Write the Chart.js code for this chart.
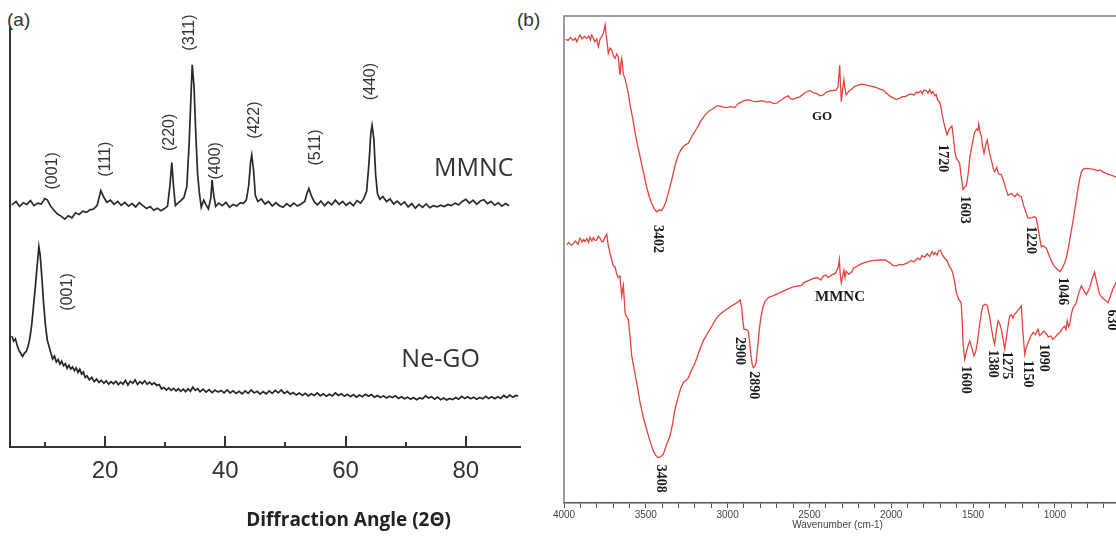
<!DOCTYPE html>
<html>
<head>
<meta charset="utf-8">
<script src="https://cdn.jsdelivr.net/npm/chart.js@4.4.1/dist/chart.umd.min.js"></script>
<style>
  html, body { margin:0; padding:0; background:#fff; }
  body { width:1116px; height:536px; position:relative; overflow:hidden; }
  canvas { position:absolute; top:0; }
  #ca { left:0; }
  #cb { left:540px; }
  .plab { position:absolute; font-family:"Liberation Sans", Arial, sans-serif; font-size:19px; line-height:19px; color:#333; }
</style>
</head>
<body>
<div class="plab" style="left:7px; top:10px;">(a)</div>
<div class="plab" style="left:517px; top:10px;">(b)</div>
<canvas id="ca" width="540" height="536"></canvas>
<canvas id="cb" width="640" height="536"></canvas>
<script>
// ---------------- Panel (a): XRD ----------------
const xrdTickLabels = [20, 40, 60, 80];
const xrdMinorTicks = [10, 30, 50, 70];

// MMNC XRD pattern [2theta, intensity (a.u.)]
const mmncXrd = [
[4.5,57.8],[5.2,58.6],[5.8,57.4],[6.4,58.3],[7.0,57.9],[7.6,58.8],[8.2,57.6],[8.8,58.2],[9.4,58.0],[10.0,59.3],
[10.4,59.0],[10.9,57.6],[11.5,56.5],[12.1,55.6],[12.7,55.1],[13.3,54.4],[13.9,55.2],[14.5,54.7],[15.1,55.9],[15.7,55.5],
[16.3,56.3],[16.9,56.0],[17.5,56.6],[18.1,56.8],[18.7,57.7],[19.3,61.2],[19.8,59.6],[20.3,58.4],[20.9,58.9],[21.5,57.9],
[22.1,58.6],[22.7,57.7],[23.3,58.4],[23.9,57.5],[24.5,58.1],[25.1,57.3],[25.7,58.3],[26.3,57.6],[26.9,56.9],[27.5,57.4],
[28.1,56.5],[28.7,57.0],[29.3,56.4],[29.9,56.9],[30.4,57.5],[30.8,62.5],[31.1,67.9],[31.4,62.0],[31.7,57.6],[32.1,58.2],
[32.6,58.8],[33.1,59.5],[33.6,62.1],[34.0,73.0],[34.3,84.0],[34.5,91.2],[34.8,86.0],[35.1,74.5],[35.4,65.0],[35.7,60.5],
[36.0,57.2],[36.4,58.9],[36.8,57.8],[37.2,56.8],[37.6,59.5],[37.8,63.7],[38.1,59.8],[38.4,57.4],[38.9,58.2],[39.5,57.6],
[40.1,58.4],[40.7,57.2],[41.3,57.9],[41.9,57.5],[42.5,58.3],[43.0,58.1],[43.5,59.0],[43.9,62.5],[44.2,68.0],[44.4,69.7],
[44.7,66.0],[45.0,60.0],[45.4,58.6],[46.0,59.2],[46.6,58.0],[47.2,58.6],[47.8,57.5],[48.4,58.3],[49.0,57.6],[49.6,57.2],
[50.2,58.1],[50.8,57.4],[51.4,58.2],[52.0,57.5],[52.6,58.0],[53.2,58.6],[53.6,60.6],[53.9,61.7],[54.3,60.0],[54.8,58.5],
[55.3,57.8],[55.9,58.7],[56.5,57.6],[57.1,58.5],[57.7,57.8],[58.3,58.9],[58.9,57.9],[59.5,58.6],[60.1,57.7],[60.7,58.4],
[61.3,57.6],[61.9,58.8],[62.5,58.2],[63.0,59.2],[63.5,61.0],[63.9,68.0],[64.2,75.0],[64.4,76.8],[64.7,73.5],[65.0,65.0],
[65.3,60.5],[65.7,59.1],[66.2,59.8],[66.8,58.6],[67.4,59.2],[68.0,58.0],[68.6,58.7],[69.2,57.8],[69.8,58.5],[70.4,57.3],
[71.0,58.1],[71.6,57.0],[72.2,57.9],[72.8,57.2],[73.4,58.0],[74.0,57.1],[74.6,57.6],[75.2,57.3],[75.8,57.7],[76.4,57.4],
[77.0,57.9],[77.6,57.6],[78.2,58.2],[78.8,57.8],[79.4,58.6],[80.0,59.1],[80.6,58.2],[81.2,58.9],[81.8,57.9],[82.4,58.7],
[83.0,59.0],[83.6,58.1],[84.2,58.6],[84.8,57.7],[85.4,58.3],[86.0,57.5],[86.6,58.1],[87.2,57.6]
];

// Ne-GO XRD pattern [2theta, intensity (a.u.)]
const negoXrd = [
[4.5,26.5],[4.8,25.3],[5.1,25.8],[5.4,24.2],[5.7,23.0],[6.0,22.3],[6.3,21.6],[6.6,22.4],[6.9,22.8],[7.2,24.0],
[7.5,26.0],[7.8,29.0],[8.1,33.5],[8.4,38.0],[8.7,43.0],[9.0,47.8],[9.2,46.0],[9.5,40.5],[9.8,34.0],[10.1,29.0],
[10.4,25.5],[10.7,24.0],[11.0,22.4],[11.3,21.0],[11.6,21.7],[11.9,20.3],[12.2,20.9],[12.5,19.8],[12.8,20.5],[13.1,19.4],
[13.4,19.9],[13.7,18.8],[14.0,19.5],[14.3,18.6],[14.6,19.1],[14.9,18.2],[15.2,18.9],[15.5,17.8],[15.8,18.6],[16.1,17.4],
[16.4,17.9],[16.7,16.6],[17.0,17.0],[17.4,16.0],[17.8,16.6],[18.2,15.6],[18.6,16.2],[19.0,15.4],[19.4,15.9],[19.8,15.2],
[20.2,15.8],[20.6,15.0],[21.0,15.6],[21.4,15.1],[21.8,15.7],[22.2,14.9],[22.6,15.5],[23.0,15.0],[23.4,15.9],[23.8,14.8],
[24.2,15.7],[24.6,15.2],[25.0,16.0],[25.4,14.9],[25.8,15.6],[26.2,15.1],[26.6,15.8],[27.0,15.0],[27.4,15.5],[27.8,14.9],
[28.2,15.3],[28.6,14.7],[29.0,14.9],[29.4,13.9],[29.8,14.2],[30.2,13.6],[30.6,14.1],[31.0,13.5],[31.4,14.0],[31.8,13.4],
[32.2,13.9],[32.6,13.3],[33.0,13.8],[33.4,13.2],[33.8,13.9],[34.2,13.3],[34.6,14.3],[35.0,13.5],[35.4,13.9],[35.8,13.2],
[36.3,13.8],[36.8,13.1],[37.3,13.7],[37.8,13.0],[38.3,13.6],[38.8,13.1],[39.3,13.5],[39.8,12.9],[40.3,13.6],[40.8,12.9],
[41.3,13.4],[41.8,12.8],[42.3,13.3],[42.8,12.7],[43.3,13.4],[43.8,12.8],[44.3,13.6],[44.8,12.9],[45.3,13.3],[45.8,12.6],
[46.3,13.2],[46.8,12.7],[47.3,13.4],[47.8,12.8],[48.3,13.5],[48.8,12.9],[49.3,13.6],[49.8,12.8],[50.3,13.3],[50.8,12.6],
[51.3,13.0],[51.8,12.4],[52.3,12.9],[52.8,12.3],[53.3,12.8],[53.8,12.2],[54.3,12.7],[54.8,12.3],[55.3,12.9],[55.8,12.2],
[56.3,12.7],[56.8,12.1],[57.3,12.6],[57.8,12.2],[58.3,12.9],[58.8,12.3],[59.3,12.7],[59.8,12.1],[60.3,12.6],[60.8,12.0],
[61.3,12.5],[61.8,11.9],[62.3,12.4],[62.8,12.0],[63.3,12.6],[63.8,12.1],[64.3,12.5],[64.8,11.9],[65.3,12.3],[65.8,11.8],
[66.3,12.2],[66.8,11.7],[67.3,12.1],[67.8,11.8],[68.3,12.2],[68.8,11.6],[69.3,12.0],[69.8,11.5],[70.3,11.9],[70.8,11.4],
[71.3,11.8],[71.8,11.3],[72.3,11.7],[72.8,11.5],[73.3,12.2],[73.8,11.7],[74.3,12.0],[74.8,11.4],[75.3,11.9],[75.8,11.3],
[76.3,11.7],[76.8,11.2],[77.3,11.6],[77.8,11.3],[78.3,11.8],[78.8,11.4],[79.3,12.1],[79.8,11.6],[80.3,12.0],[80.8,11.5],
[81.3,11.9],[81.8,11.4],[82.3,11.8],[82.8,11.5],[83.3,12.1],[83.8,11.6],[84.3,12.0],[84.8,11.5],[85.3,12.0],[85.8,11.6],
[86.3,12.3],[86.8,11.8],[87.3,12.4],[87.8,11.9],[88.3,12.3],[88.7,12.2]
];

const xrdPeakLabels = ['(001)','(111)','(220)','(311)','(400)','(422)','(511)','(440)'];
const xrdPeakLabelAngle = [11.27, 20.13, 30.75, 34.07, 38.41, 44.92, 55.03, 64.17];
const xrdPeakLabelLevel = [65.9, 68.7, 75.1, 98.9, 68.3, 78.0, 71.5, 87.2];

// ---------------- Panel (b): FTIR ----------------
const ftirTickLabels = [4000, 3500, 3000, 2500, 2000, 1500, 1000, 500];

// GO FTIR spectrum [wavenumber, transmittance (a.u.)]
const goFtir = [
[3990,95.2],[3975,95.0],[3960,95.6],[3945,95.0],[3930,95.4],[3922,94.7],[3910,95.6],[3902,96.1],[3890,95.3],[3875,95.8],
[3861,95.4],[3848,95.9],[3838,95.1],[3831,96.1],[3820,95.4],[3811,94.7],[3800,95.3],[3790,93.7],[3780,95.2],[3770,95.8],
[3760,96.3],[3749,98.2],[3742,96.0],[3735,94.2],[3729,92.3],[3718,93.4],[3708,93.0],[3698,91.8],[3688,91.3],[3678,92.2],
[3668,91.6],[3658,87.9],[3652,90.5],[3647,91.3],[3637,88.0],[3627,87.2],[3617,85.6],[3607,84.1],[3595,81.5],[3580,79.0],
[3566,76.2],[3550,73.4],[3535,71.1],[3515,68.0],[3495,64.9],[3480,63.0],[3464,61.5],[3448,60.4],[3433,59.8],[3418,60.2],
[3403,60.0],[3390,60.8],[3377,61.9],[3360,64.0],[3342,66.3],[3320,69.5],[3301,71.5],[3285,72.5],[3271,73.2],[3255,73.6],
[3240,73.9],[3215,75.5],[3189,76.9],[3165,78.4],[3138,79.7],[3110,80.6],[3087,81.0],[3065,81.6],[3047,81.5],[3025,81.3],
[3006,81.2],[2980,81.4],[2955,81.2],[2940,81.9],[2924,82.2],[2900,82.6],[2874,82.8],[2850,82.5],[2822,82.4],[2790,82.6],
[2760,82.3],[2741,82.4],[2720,82.0],[2700,82.1],[2685,82.5],[2669,82.8],[2650,83.3],[2629,83.6],[2615,83.0],[2598,82.9],
[2580,83.2],[2558,83.4],[2530,84.2],[2510,84.5],[2496,84.7],[2475,84.2],[2456,84.1],[2435,83.6],[2415,83.8],[2400,84.3],
[2386,84.5],[2360,84.7],[2336,84.8],[2325,85.5],[2315,89.9],[2310,86.0],[2305,82.4],[2297,85.0],[2289,86.9],[2282,85.0],
[2275,83.8],[2260,84.5],[2244,84.9],[2225,85.5],[2203,85.8],[2180,86.0],[2150,85.8],[2122,85.6],[2090,85.3],[2070,85.0],
[2050,84.8],[2030,84.2],[2010,83.6],[1990,83.2],[1969,82.9],[1950,83.1],[1930,83.5],[1915,83.4],[1897,83.8],[1880,84.0],
[1860,83.8],[1845,84.4],[1836,84.2],[1820,84.6],[1810,84.0],[1800,84.8],[1786,84.7],[1775,84.2],[1765,84.9],[1755,84.1],
[1745,84.5],[1734,83.6],[1725,83.9],[1715,82.6],[1704,82.4],[1695,81.0],[1684,79.0],[1672,77.2],[1659,75.6],[1645,76.8],
[1629,77.4],[1620,75.0],[1610,72.0],[1602,70.8],[1592,70.3],[1582,69.8],[1572,67.0],[1561,64.4],[1551,64.9],[1541,65.1],
[1530,67.5],[1520,70.8],[1505,73.8],[1490,76.2],[1478,76.8],[1470,76.5],[1465,77.8],[1458,76.4],[1449,75.2],[1441,73.0],
[1433,71.8],[1423,73.5],[1413,74.5],[1400,72.0],[1385,70.0],[1375,68.5],[1368,68.0],[1355,68.9],[1345,67.6],[1327,67.4],
[1310,65.8],[1300,64.6],[1286,63.2],[1265,63.6],[1245,62.9],[1230,63.5],[1215,63.0],[1205,62.9],[1190,61.0],[1175,59.5],
[1164,58.5],[1140,58.6],[1125,58.8],[1113,58.5],[1100,56.0],[1090,54.0],[1083,52.6],[1070,52.8],[1052,52.3],[1030,50.4],
[1015,49.3],[1001,48.5],[985,48.0],[968,47.5],[955,48.2],[940,49.3],[928,50.6],[910,53.8],[888,58.1],[870,62.0],
[857,64.9],[845,67.0],[837,68.0],[825,68.6],[806,68.7],[780,68.6],[760,68.5],[740,68.2],[724,68.4],[700,67.9],
[680,67.6],[663,67.4],[640,67.1],[620,66.9],[600,66.6]
];

// MMNC FTIR spectrum [wavenumber, transmittance (a.u.)]
const mmncFtir = [
[3984,53.0],[3970,53.5],[3955,52.9],[3943,53.3],[3930,53.8],[3915,53.1],[3902,54.4],[3890,53.6],[3880,54.1],[3872,53.7],
[3860,54.3],[3850,53.5],[3841,54.6],[3830,53.8],[3820,54.5],[3811,53.9],[3800,54.0],[3790,54.8],[3780,54.4],[3770,53.7],
[3760,53.7],[3750,54.5],[3739,55.2],[3730,53.0],[3719,51.3],[3710,50.2],[3699,48.7],[3688,48.5],[3678,47.0],[3668,46.3],
[3658,46.6],[3647,42.5],[3642,43.8],[3637,44.7],[3627,39.1],[3617,38.2],[3607,37.7],[3596,34.0],[3586,30.2],[3570,27.3],
[3556,24.7],[3535,20.6],[3515,17.6],[3495,15.1],[3475,12.8],[3454,10.7],[3440,9.8],[3424,9.3],[3410,9.5],[3393,10.0],
[3375,11.8],[3352,13.8],[3335,16.5],[3322,19.2],[3300,22.0],[3285,23.7],[3271,24.7],[3255,25.2],[3240,25.7],[3220,27.3],
[3199,28.8],[3175,31.0],[3149,33.3],[3120,35.0],[3097,36.3],[3075,37.6],[3057,38.4],[3030,39.2],[3006,39.8],[2975,40.5],
[2945,41.1],[2930,41.5],[2924,41.7],[2914,40.1],[2907,37.5],[2900,35.7],[2885,35.6],[2874,35.3],[2865,33.0],[2857,30.2],
[2850,28.5],[2843,27.8],[2835,28.0],[2826,28.8],[2815,32.5],[2806,35.7],[2795,38.5],[2782,40.5],[2770,41.5],[2761,41.8],
[2751,42.2],[2720,42.6],[2680,43.2],[2640,43.8],[2598,44.4],[2570,44.6],[2547,44.7],[2537,45.2],[2510,45.6],[2476,46.1],
[2450,46.3],[2430,45.8],[2415,46.6],[2400,46.8],[2386,46.3],[2360,46.9],[2340,47.2],[2325,48.3],[2317,50.0],[2312,47.0],
[2305,45.2],[2297,46.5],[2289,47.8],[2282,46.3],[2275,47.6],[2260,47.0],[2244,47.3],[2230,48.2],[2215,48.5],[2190,49.0],
[2160,49.4],[2126,49.7],[2100,49.8],[2070,49.9],[2036,49.9],[2010,49.4],[1990,48.8],[1968,48.7],[1950,49.0],[1930,48.9],
[1901,49.3],[1880,49.8],[1860,49.5],[1840,50.3],[1825,50.0],[1811,50.8],[1795,50.5],[1780,51.2],[1765,50.6],[1750,51.6],
[1740,51.0],[1732,51.4],[1720,50.9],[1710,51.8],[1699,51.9],[1688,51.0],[1677,50.4],[1660,49.8],[1643,48.5],[1632,48.0],
[1622,47.0],[1610,45.0],[1602,43.2],[1590,42.0],[1572,41.1],[1566,37.0],[1561,32.9],[1551,29.5],[1541,31.0],[1531,32.2],
[1520,33.3],[1507,31.8],[1494,30.2],[1484,31.0],[1474,32.9],[1460,36.5],[1449,39.1],[1439,40.5],[1425,40.8],[1413,40.6],
[1400,38.5],[1388,36.0],[1378,34.0],[1368,32.6],[1357,35.5],[1347,37.4],[1337,36.8],[1327,35.7],[1316,33.5],[1306,31.6],
[1290,35.5],[1276,38.4],[1266,38.6],[1256,38.0],[1246,38.8],[1236,39.1],[1220,39.8],[1205,40.5],[1195,35.0],[1184,30.5],
[1174,32.0],[1164,32.9],[1148,34.2],[1133,35.0],[1118,34.6],[1103,35.7],[1093,34.4],[1083,34.7],[1068,35.3],[1052,34.7],
[1040,34.1],[1025,34.3],[1012,33.6],[1001,33.9],[985,34.6],[970,35.0],[955,35.8],[940,36.3],[932,35.6],[924,37.4],
[916,36.2],[909,36.7],[899,38.8],[889,40.1],[879,40.5],[869,41.1],[855,43.0],[838,44.6],[822,43.6],[808,42.8],
[797,43.5],[787,44.2],[772,46.0],[757,47.4],[745,45.5],[726,42.8],[705,42.0],[690,41.6],[675,41.1],[660,42.5],
[645,44.0],[626,45.2],[600,47.5]
];

const goBandLabels = ['3402','1720','1603','1220','1046','630'];
const goBandWave   = [3425, 1685, 1551, 1150, 954, 651];
const goBandLevel  = [54.2, 70.8, 60.2, 54.0, 43.5, 37.6];
const mmncBandLabels = ['3408','2900','2890','1600','1380','1275','1150','1090'];
const mmncBandWave   = [3410, 2924, 2839, 1543, 1378, 1292, 1164, 1070];
const mmncBandLevel  = [5.0, 31.2, 24.2, 25.3, 28.6, 28.3, 26.5, 29.8];

// ---------------- helpers ----------------
const toXY = arr => arr.map(p => ({x: p[0], y: p[1]}));

function textPlugin(items) {
  return {
    id: 'texts',
    afterDatasetsDraw(chart) {
      const ctx = chart.ctx, xs = chart.scales.x, ys = chart.scales.y;
      items.forEach(it => {
        const px = xs.getPixelForValue(it.x);
        const py = it.py !== undefined ? it.py : ys.getPixelForValue(it.y);
        ctx.save();
        ctx.translate(px, py);
        if (it.rot) ctx.rotate(it.rot);
        ctx.font = it.font;
        ctx.fillStyle = it.color || '#222';
        ctx.textAlign = it.align || 'center';
        ctx.textBaseline = 'middle';
        ctx.fillText(it.text, 0, 0);
        ctx.restore();
      });
    }
  };
}

// ---------------- Chart (a) ----------------
const aTexts = [];
xrdPeakLabels.forEach((t, i) => aTexts.push({text: t, x: xrdPeakLabelAngle[i], y: xrdPeakLabelLevel[i], rot: -Math.PI/2, font: '16px "Liberation Sans", Arial, sans-serif', color: '#333'}));
aTexts.push({text: '(001)', x: 13.76, y: 37, rot: -Math.PI/2, font: '16px "Liberation Sans", Arial, sans-serif', color: '#333'});
aTexts.push({text: 'MMNC', x: 81.3, y: 66.4, font: '25px "Open Sans", sans-serif', color: '#333'});
aTexts.push({text: 'Ne-GO', x: 75.8, y: 20.8, font: '25px "Open Sans", sans-serif', color: '#333'});
aTexts.push({text: 'Diffraction Angle (2\u0398)', x: 60.5, py: 521, font: 'bold 19px "Open Sans", sans-serif', color: '#222'});

const xrdTicksPlugin = {
  id: 'xrdTicks',
  afterDraw(chart) {
    const ctx = chart.ctx, xs = chart.scales.x, y0 = chart.chartArea.bottom;
    ctx.save();
    ctx.strokeStyle = '#333';
    ctx.lineWidth = 2;
    xrdTickLabels.concat(xrdMinorTicks).forEach(v => {
      const len = xrdTickLabels.includes(v) ? 11 : 5;
      const x = Math.round(xs.getPixelForValue(v));
      ctx.beginPath(); ctx.moveTo(x, y0); ctx.lineTo(x, y0 - len); ctx.stroke();
    });
    ctx.restore();
  }
};

new Chart(document.getElementById('ca'), {
  type: 'line',
  data: {
    datasets: [
      {data: toXY(mmncXrd), borderColor: '#2a2a2a', borderWidth: 1.7, pointRadius: 0, tension: 0},
      {data: toXY(negoXrd), borderColor: '#262626', borderWidth: 1.7, pointRadius: 0, tension: 0}
    ]
  },
  options: {
    responsive: false, animation: false, devicePixelRatio: 1,
    layout: {padding: {left: 10, right: 20, top: 28, bottom: 0}},
    plugins: {legend: {display: false}, tooltip: {enabled: false}},
    scales: {
      x: {
        type: 'linear', min: 4.2, max: 89,
        afterBuildTicks: s => { s.ticks = xrdTickLabels.map(v => ({value: v})); },
        afterFit: s => { s.height = 89; },
        ticks: {font: {family: '"Liberation Sans", Arial, sans-serif', size: 24}, color: '#333', padding: 10, maxRotation: 0, autoSkip: false},
        grid: {display: false, drawTicks: false},
        border: {display: true, color: '#333', width: 2}
      },
      y: {
        min: 0, max: 100,
        afterFit: s => { s.width = 0; },
        ticks: {display: false},
        grid: {display: false, drawTicks: false},
        border: {display: true, color: '#333', width: 2}
      }
    }
  },
  plugins: [textPlugin(aTexts), xrdTicksPlugin]
});

// ---------------- Chart (b) ----------------
const bTexts = [];
const serif = 'bold 14px "Liberation Serif", "Times New Roman", serif';
goBandLabels.forEach((t, i) => bTexts.push({text: t, x: goBandWave[i], y: goBandLevel[i], rot: Math.PI/2, font: serif, color: '#1a1a1a'}));
mmncBandLabels.forEach((t, i) => bTexts.push({text: t, x: mmncBandWave[i], y: mmncBandLevel[i], rot: Math.PI/2, font: serif, color: '#1a1a1a'}));
bTexts.push({text: 'GO', x: 2423, y: 79.3, font: 'bold 13px "Liberation Serif", "Times New Roman", serif', color: '#1a1a1a'});
bTexts.push({text: 'MMNC', x: 2313, y: 42.2, font: 'bold 15px "Liberation Serif", "Times New Roman", serif', color: '#1a1a1a'});
bTexts.push({text: 'Wavenumber (cm-1)', x: 2328, py: 525, font: '10px "Liberation Sans", Arial, sans-serif', color: '#444'});

const frameTicks = [];
for (let v = 400; v <= 4000; v += 100) frameTicks.push(v);

const framePlugin = {
  id: 'frame',
  beforeDatasetsDraw(chart) {
    const {ctx, chartArea: a} = chart;
    ctx.save();
    ctx.strokeStyle = '#7d7d7d';
    ctx.lineWidth = 1.5;
    ctx.beginPath();
    ctx.moveTo(a.left, a.bottom); ctx.lineTo(a.left, a.top); ctx.lineTo(a.right, a.top);
    ctx.stroke();
    ctx.restore();
  }
};

new Chart(document.getElementById('cb'), {
  type: 'line',
  data: {
    datasets: [
      {data: toXY(goFtir), borderColor: '#e5433f', borderWidth: 1.3, pointRadius: 0, tension: 0},
      {data: toXY(mmncFtir), borderColor: '#e5433f', borderWidth: 1.3, pointRadius: 0, tension: 0}
    ]
  },
  options: {
    responsive: false, animation: false, devicePixelRatio: 1,
    layout: {padding: {left: 24, right: 27, top: 16, bottom: 0}},
    plugins: {legend: {display: false}, tooltip: {enabled: false}},
    scales: {
      x: {
        type: 'linear', min: 400, max: 4000, reverse: true,
        afterBuildTicks: s => { s.ticks = frameTicks.map(v => ({value: v})); },
        afterFit: s => { s.height = 33; },
        ticks: {
          font: {family: '"Liberation Sans", Arial, sans-serif', size: 10}, color: '#444',
          padding: 1, maxRotation: 0, autoSkip: false,
          callback: v => ftirTickLabels.includes(v) ? String(v) : ''
        },
        grid: {display: true, drawOnChartArea: false, drawTicks: true, tickLength: 5, color: '#555', lineWidth: 1},
        border: {display: true, color: '#555', width: 1.5}
      },
      y: {min: 0, max: 100, display: false}
    }
  },
  plugins: [framePlugin, textPlugin(bTexts)]
});
</script>
</body>
</html>
